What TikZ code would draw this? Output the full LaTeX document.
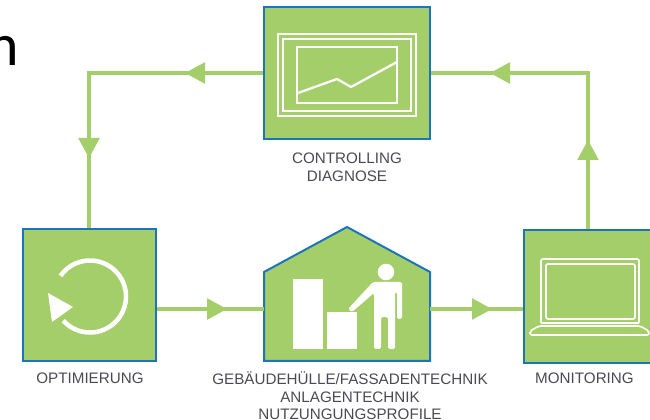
\documentclass[tikz,border=0pt]{standalone}
\usepackage{fontspec}
\setmainfont{Liberation Sans}
\newfontfamily\bigfont{Carlito}
\usetikzlibrary{arrows.meta}
\definecolor{leaf}{HTML}{A3CE6A}
\definecolor{edge}{HTML}{1C75BC}
\definecolor{ink}{HTML}{4A4A54}
\tikzset{
  x=0.75pt,y=-0.75pt,
  boxnode/.style={draw=edge,fill=leaf,line width=1.5pt,inner sep=0pt,minimum width=#1*0.75pt},
  conn/.style={draw=leaf,line width=2.6pt},
  head/.style={conn,-{Triangle[length=15pt,width=15.5pt,fill=leaf]}},
  lbl/.style={text=ink,font=\fontsize{11.4pt}{13.3pt}\selectfont,align=center,inner sep=0pt},
  icon/.style={draw=white,line width=1.7pt},
  thin icon/.style={draw=white,line width=1.25pt,rounded corners=1.5pt},
}
\begin{document}
\begin{tikzpicture}
\clip (0,0) rectangle (650,420);
\fill[white] (0,0) rectangle (650,420);
\node[font=\bigfont\fontsize{45pt}{45pt}\selectfont,anchor=base east,inner sep=0pt,text=black] (stray) at (19,66) {n};

% boxes
\node[boxnode=166,minimum height=99pt] (ctrl) at (347,73.5) {};
\node[boxnode=133,minimum height=99pt] (opt) at (89.5,295) {};
\node[boxnode=128,minimum height=99.75pt] (mon) at (588,296.5) {};
\draw[draw=edge,fill=leaf,line width=1.5pt,line join=miter]
  (264,361) -- (264,272) -- (347,227) -- (430,272) -- (430,361) -- cycle;
\coordinate (houseW) at (264,309);
\coordinate (houseE) at (430,309);

% connector turning points and arrow tips
\coordinate (tipTR) at (490,73);
\coordinate (tipTL) at (185,73);
\coordinate (cornerL) at (89,73);
\coordinate (tipL) at (89,158);
\coordinate (tipB1) at (227,309);
\coordinate (tipB2) at (492,309);
\coordinate (tipR) at (588,140);
\coordinate (cornerR) at (588,73);

% connectors
\draw[conn] (opt.east |- tipB1) -- (houseW);
\draw[conn] (houseE) -- (mon.west |- tipB2);
\draw[conn] (mon.north) -- (cornerR) -- (ctrl.east |- cornerR);
\draw[conn] (ctrl.west |- cornerL) -- (cornerL) -- (opt.north -| cornerL);
\draw[head] ([xshift=-1pt]tipB1) -- (tipB1);
\draw[head] ([xshift=-1pt]tipB2) -- (tipB2);
\draw[head] ([yshift=-1pt]tipR) -- (tipR);
\draw[head] ([yshift=1pt]tipL) -- (tipL);
\draw[head] ([xshift=1pt]tipTR) -- (tipTR);
\draw[head] ([xshift=1pt]tipTL) -- (tipTL);

% chart icon
\draw[icon] (278,34) rectangle (416,116);
\draw[icon] (283,39) rectangle (411,111);
\draw[icon] (297,47) rectangle (397,103);
\draw[icon,line join=round] (298,93) -- (337,79) -- (351,87) -- (397,62);

% circular arrow icon
\draw[draw=white,line width=3.4pt] plot[smooth,samples=60,domain=215:498] ({90+36*cos(\x)},{296.5+36*sin(\x)});
\fill[white] (48,293) -- (73,307) -- (52,322) -- cycle;

% house icon
\fill[white] (293,279) rectangle (323,349);
\fill[white] (327,312) rectangle (357,349);
\fill[white] (386,272) circle[radius=6.2pt];
\fill[white,rounded corners=1.2pt] (348,309) -- (373,282) -- (402,282) -- (402,319) -- (397,319) -- (397,292) -- (395,292) -- (395,349) -- (388,349) -- (388,317) -- (381,317) -- (381,349) -- (374,349) -- (374,293) -- (352,312) -- cycle;

% laptop icon
\draw[thin icon] (541,323) -- (541,259) -- (639,259) -- (639,323);
\draw[thin icon] (546,319) rectangle (635,264);
\draw[thin icon] (541,323) -- (639,323);
\draw[thin icon] (530,335) -- (649,335) -- (649,331) -- (640,326) -- (539,326) -- (530,331) -- cycle;

% labels
\node[lbl,anchor=north] (ctrlLabel) at (347,152.5) {CONTROLLING\\DIAGNOSE};
\node[lbl,anchor=north] (optLabel) at (90,372.5) {OPTIMIERUNG};
\node[lbl,anchor=north] (houseLabel) at (350,371.5) {GEBÄUDEHÜLLE/FASSADENTECHNIK\\ANLAGENTECHNIK\\NUTZUNGUNGSPROFILE};
\node[lbl,anchor=north] (monLabel) at (584.5,372.5) {MONITORING};
\end{tikzpicture}
\end{document}
